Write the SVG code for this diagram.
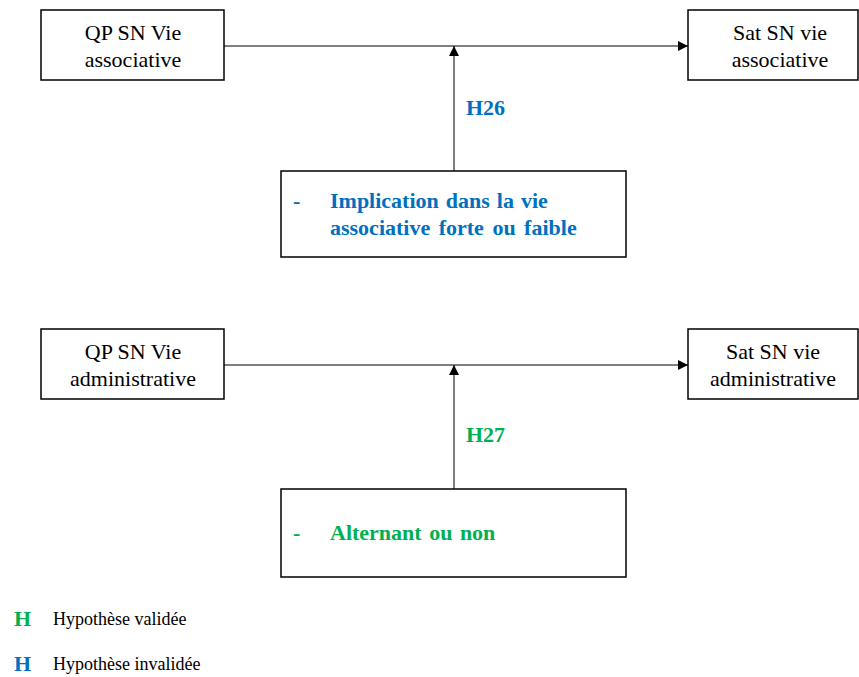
<svg xmlns="http://www.w3.org/2000/svg" width="859" height="677" viewBox="0 0 859 677">
<style>
.box{fill:#fff;stroke:#000;stroke-width:1.5}
.t{font-family:"Liberation Serif","Times New Roman",serif;font-size:22px;fill:#000}
.b{font-family:"Liberation Serif","Times New Roman",serif;font-size:22px;font-weight:bold}
.blue{fill:#0070C0}
.green{fill:#00B050}
.l{font-family:"Liberation Serif","Times New Roman",serif;font-size:18px;fill:#000}
.c{stroke:#000;stroke-width:1;fill:none;marker-end:url(#ah)}
</style>
<defs>
<marker id="ah" viewBox="0 0 10 10" refX="10" refY="5" markerWidth="10" markerHeight="10" markerUnits="userSpaceOnUse" orient="auto">
<path d="M0,0 L10,5 L0,10 z" fill="#000"/>
</marker>
</defs>
<g id="connectors">
<line class="c" x1="224" y1="46" x2="688" y2="46"/>
<line class="c" x1="454" y1="171" x2="454" y2="46"/>
<line class="c" x1="224" y1="365" x2="688" y2="365"/>
<line class="c" x1="454" y1="489" x2="454" y2="365"/>
</g>
<g id="qp-assoc">
<rect class="box" x="41" y="10" width="183" height="70"/>
<text class="t" x="133" y="40" text-anchor="middle">QP SN Vie</text>
<text class="t" x="133" y="67" text-anchor="middle">associative</text>
</g>
<g id="sat-assoc">
<rect class="box" x="688" y="10" width="170" height="70"/>
<text class="t" x="780" y="40" text-anchor="middle">Sat SN vie</text>
<text class="t" x="780" y="67" text-anchor="middle">associative</text>
</g>
<text class="b blue" x="466" y="115">H26</text>
<g id="mod-assoc">
<rect class="box" x="281" y="171" width="345" height="86"/>
<text class="b blue" x="293" y="208">-</text>
<text class="b blue" x="330" y="208" word-spacing="1.5">Implication dans la vie</text>
<text class="b blue" x="330" y="235" word-spacing="3">associative forte ou faible</text>
</g>
<g id="qp-admin">
<rect class="box" x="41" y="329" width="183" height="70"/>
<text class="t" x="133" y="359" text-anchor="middle">QP SN Vie</text>
<text class="t" x="133" y="386" text-anchor="middle">administrative</text>
</g>
<g id="sat-admin">
<rect class="box" x="688" y="329" width="170" height="70"/>
<text class="t" x="773" y="359" text-anchor="middle">Sat SN vie</text>
<text class="t" x="773" y="386" text-anchor="middle">administrative</text>
</g>
<text class="b green" x="466" y="442">H27</text>
<g id="mod-admin">
<rect class="box" x="281" y="489" width="345" height="88"/>
<text class="b green" x="293" y="540">-</text>
<text class="b green" x="330" y="540" word-spacing="2">Alternant ou non</text>
</g>
<g id="legend">
<text class="b green" x="14" y="626">H</text>
<text class="l" x="53" y="625">Hypothèse validée</text>
<text class="b blue" x="14" y="671">H</text>
<text class="l" x="53" y="670">Hypothèse invalidée</text>
</g>
</svg>
